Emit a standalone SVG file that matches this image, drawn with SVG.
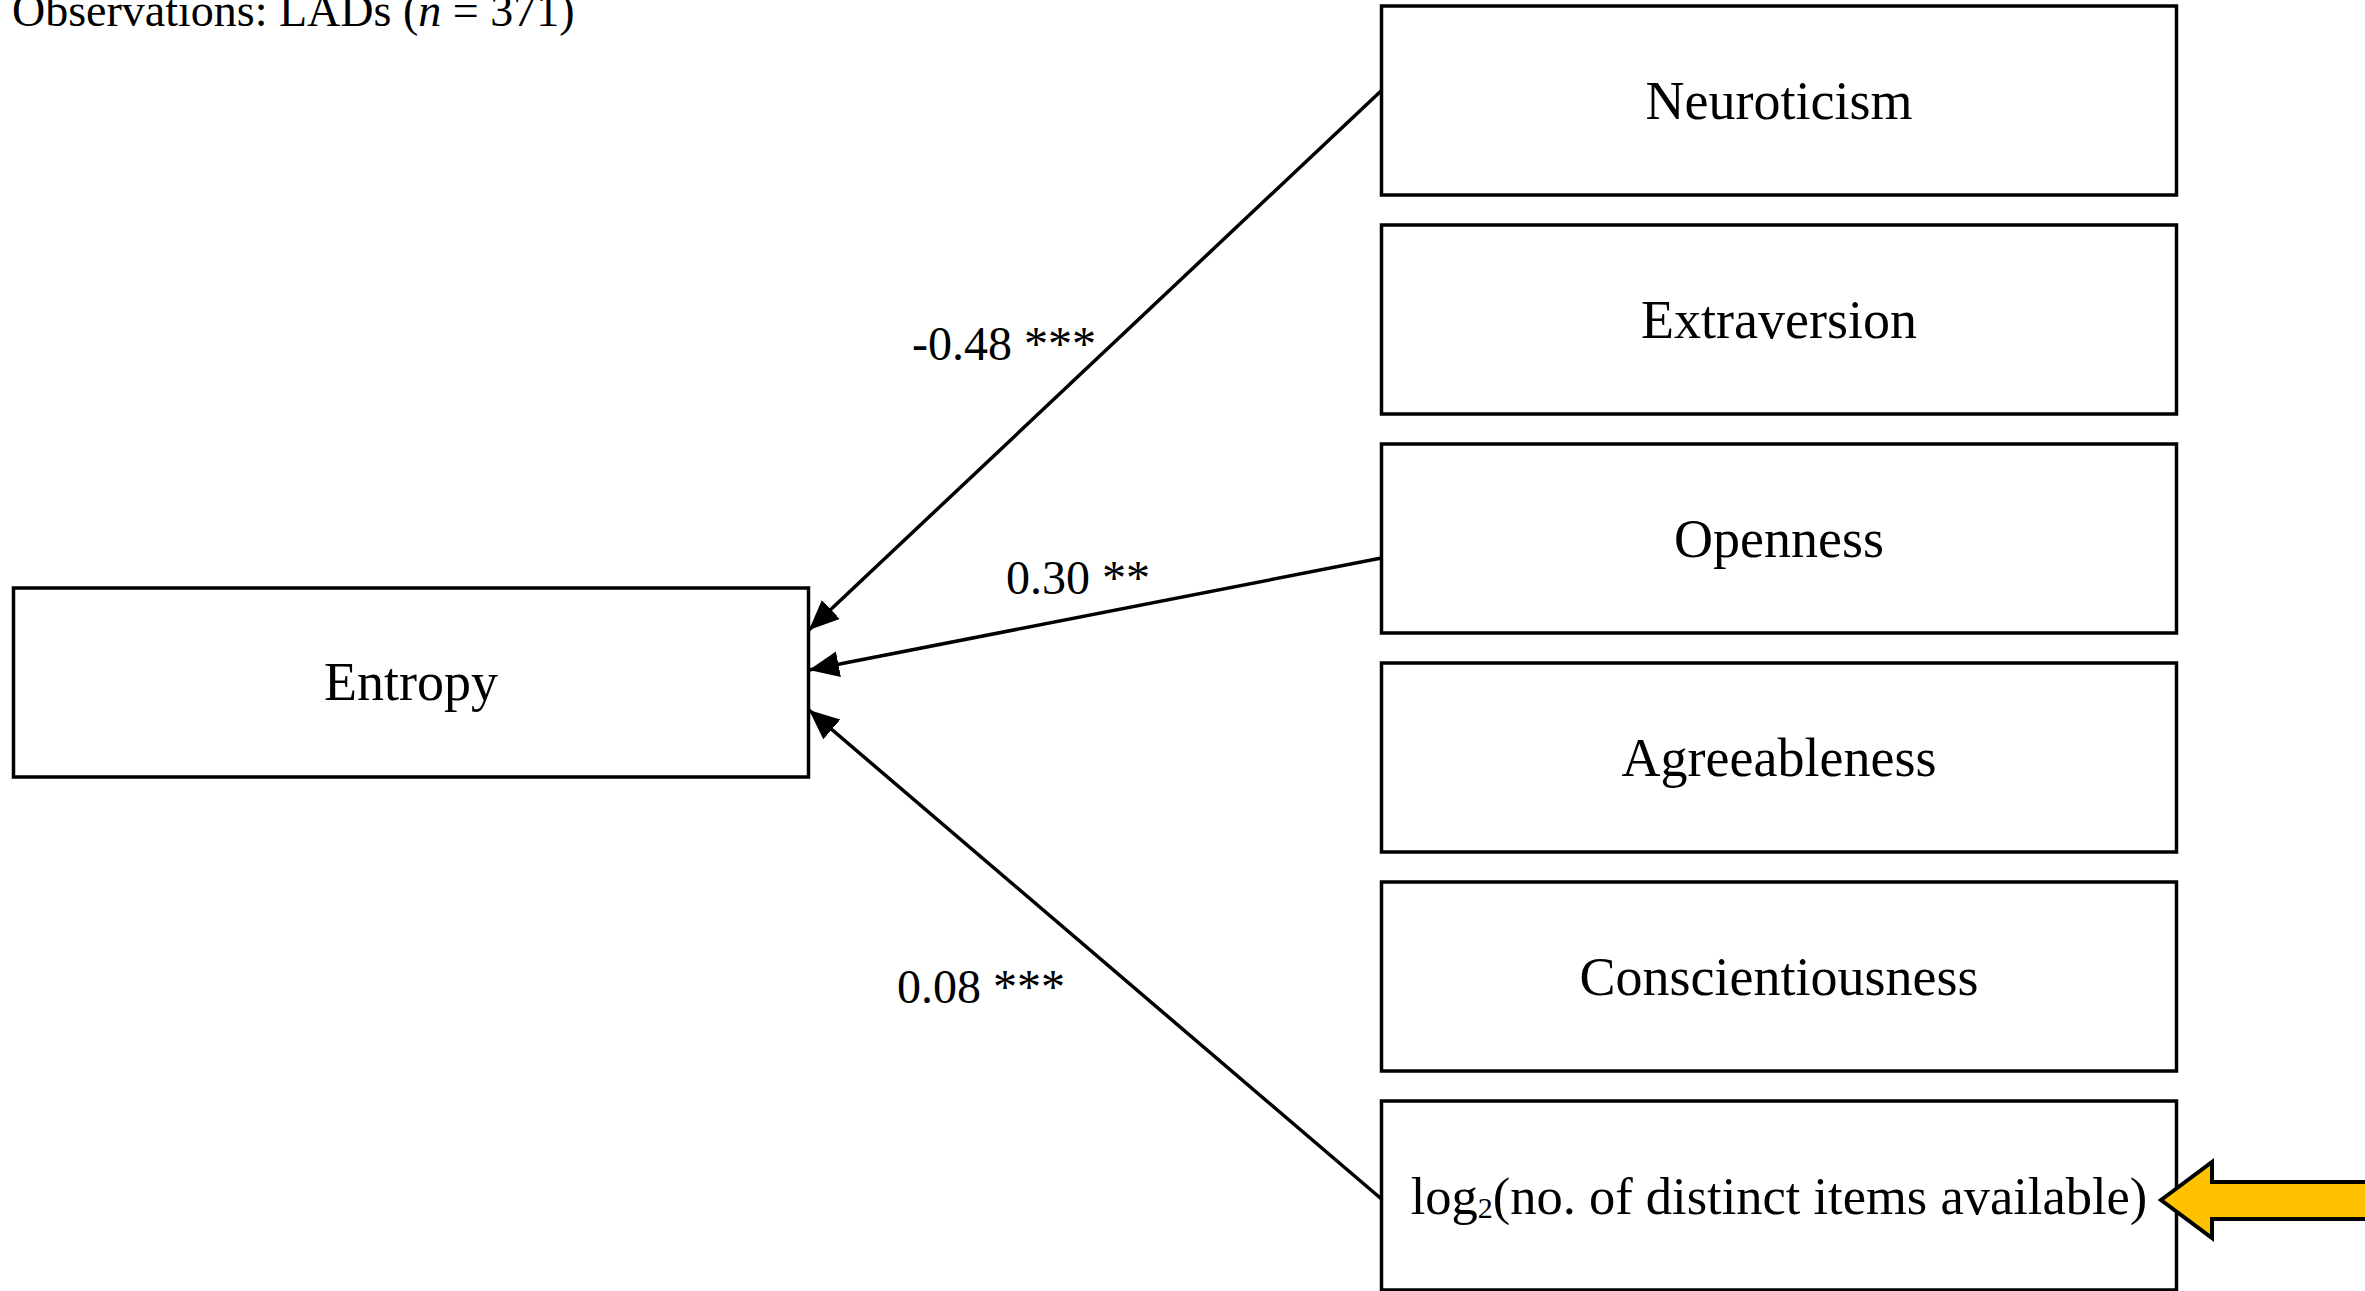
<svg xmlns="http://www.w3.org/2000/svg" width="2365" height="1291" viewBox="0 0 2365 1291">
<defs>
<style>
.box{fill:#fff;stroke:#000;stroke-width:3.5}
.lbl{font-family:"Liberation Serif",serif;font-size:54px;fill:#000;text-anchor:middle}
.coef{font-family:"Liberation Serif",serif;font-size:48px;fill:#000}
.edge{fill:none;stroke:#000;stroke-width:3.5;marker-end:url(#ah)}
</style>
<marker id="ah" markerUnits="userSpaceOnUse" markerWidth="34" markerHeight="30" refX="30" refY="13" orient="auto" viewBox="0 0 34 30">
<path d="M0,0 L30,13 L0,26 Z" fill="#000"/>
</marker>
</defs>
<rect width="2365" height="1291" fill="#fff"/>
<text x="12" y="26" font-family="Liberation Serif,serif" font-size="46" fill="#000">Observations: LADs (<tspan font-style="italic">n</tspan> = 371)</text>

<g id="entropy"><rect class="box" x="13.5" y="588" width="795" height="189"/><text class="lbl" x="411" y="700">Entropy</text></g>
<g id="neuroticism"><rect class="box" x="1381.5" y="6" width="795" height="189"/><text class="lbl" x="1779" y="119">Neuroticism</text></g>
<g id="extraversion"><rect class="box" x="1381.5" y="225" width="795" height="189"/><text class="lbl" x="1779" y="338">Extraversion</text></g>
<g id="openness"><rect class="box" x="1381.5" y="444" width="795" height="189"/><text class="lbl" x="1779" y="557">Openness</text></g>
<g id="agreeableness"><rect class="box" x="1381.5" y="663" width="795" height="189"/><text class="lbl" x="1779" y="776">Agreeableness</text></g>
<g id="conscientiousness"><rect class="box" x="1381.5" y="882" width="795" height="189"/><text class="lbl" x="1779" y="995">Conscientiousness</text></g>
<g id="items"><rect class="box" x="1381.5" y="1101" width="795" height="189"/><text class="lbl" x="1779" y="1214" style="font-size:52.5px">log<tspan font-size="30" dy="4">2</tspan><tspan dy="-4">(no. of distinct items available)</tspan></text></g>

<g id="connectors">
<line class="edge" x1="1381.5" y1="90.5" x2="809" y2="630"/>
<line class="edge" x1="1381.5" y1="558" x2="809" y2="670"/>
<line class="edge" x1="1381.5" y1="1199" x2="809" y2="710"/>
<text class="coef" x="912" y="360">-0.48 ***</text>
<text class="coef" x="1006" y="594">0.30 **</text>
<text class="coef" x="897" y="1003">0.08 ***</text>
</g>

<g id="highlight-arrow">
<path d="M2161,1200 L2212,1162 L2212,1182 L2370,1182 L2370,1219 L2212,1219 L2212,1238 Z" fill="#FFC000" stroke="#000" stroke-width="4" stroke-linejoin="miter"/>
</g>
</svg>
